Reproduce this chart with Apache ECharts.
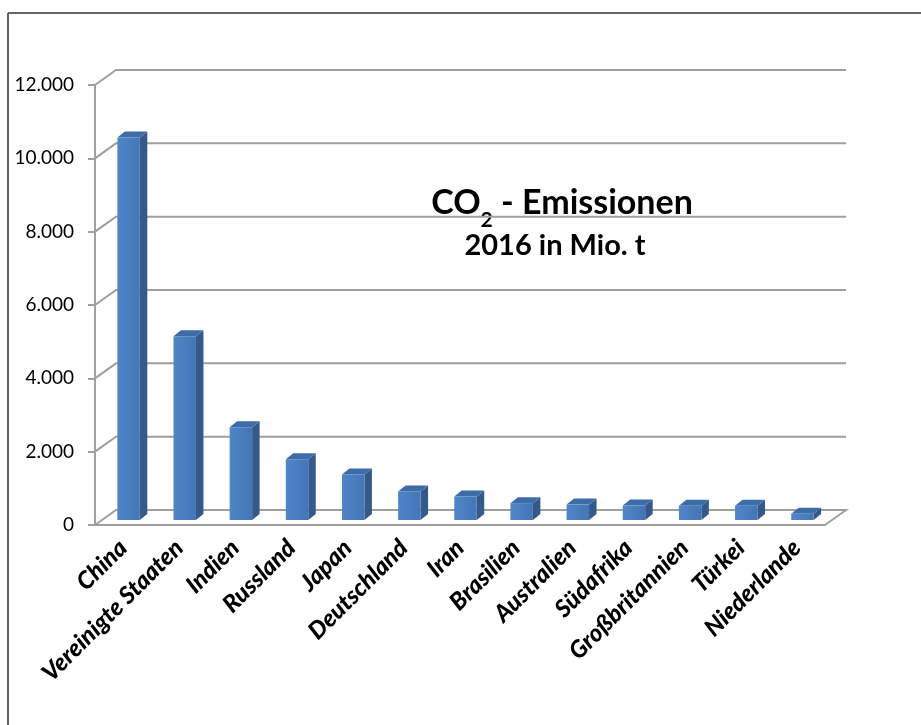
<!DOCTYPE html>
<html>
<head>
<meta charset="utf-8">
<script src="https://cdn.jsdelivr.net/npm/echarts@6/dist/echarts.min.js"></script>
<style>
  html, body { margin: 0; padding: 0; background: #fff; }
  #chart { width: 921px; height: 725px; }
</style>
</head>
<body>
<div id="chart"></div>
<script>
// CO2-Emissionen 2016 in Mio. t
const countries = ['China', 'Vereinigte Staaten', 'Indien', 'Russland', 'Japan', 'Deutschland',
  'Iran', 'Brasilien', 'Australien', 'Südafrika', 'Großbritannien', 'Türkei', 'Niederlande'];
const emissions = [10430, 5010, 2530, 1660, 1240, 780, 640, 460, 420, 395, 390, 390, 170];
const yTicks = [0, 2000, 4000, 6000, 8000, 10000, 12000];

// pseudo 3D: depth of the back wall and of the bars
const WALL = [21, -15];
const BAR_OFF = [5.5, -5];
const BAR_DEPTH = [7.5, -6];
const GRID_COLOR = '#9f9f9f';

const chart = echarts.init(document.getElementById('chart'));

const fmt = v => String(v).replace(/\B(?=(\d{3})+(?!\d))/g, '.');

const wallItem = (params, api) => {
  const cs = params.coordSys;
  const v = api.value(0);
  const y = api.coord([0, v])[1];
  const x0 = cs.x, x1 = cs.x + cs.width;
  const pts = [[x0, y], [x0 + WALL[0], y + WALL[1]], [x1 + WALL[0], y + WALL[1]]];
  if (v === 0) pts.push([x1, y]);
  return {
    type: 'polyline',
    shape: { points: pts },
    style: { stroke: GRID_COLOR, lineWidth: 2, fill: null }
  };
};

const barItem = (params, api) => {
  const idx = api.value(0);
  const base = api.coord([idx, 0]);
  const top = api.coord([idx, api.value(1)]);
  const w = api.size([1, 0])[0] * 0.4;
  const x0 = base[0] - w / 2 + BAR_OFF[0];
  const yb = base[1] + BAR_OFF[1];
  const yt = top[1] + BAR_OFF[1];
  const dx = BAR_DEPTH[0], dy = BAR_DEPTH[1];
  return {
    type: 'group',
    children: [
      {
        type: 'polygon',
        shape: { points: [[x0 + w, yt], [x0 + w + dx, yt + dy], [x0 + w + dx, yb + dy], [x0 + w, yb]] },
        style: { fill: '#345a8c' }
      },
      {
        type: 'polygon',
        shape: { points: [[x0, yt], [x0 + dx, yt + dy], [x0 + w + dx, yt + dy], [x0 + w, yt]] },
        style: { fill: '#3d6ca9' }
      },
      {
        type: 'rect',
        shape: { x: x0, y: yt, width: w, height: yb - yt },
        style: {
          fill: new echarts.graphic.LinearGradient(0, 0, 1, 0, [
            { offset: 0, color: '#4f86c8' },
            { offset: 1, color: '#4476b6' }
          ])
        }
      }
    ]
  };
};

const option = {
  backgroundColor: '#fff',
  animation: false,
  grid: { left: 95, right: 96, top: 85, bottom: 200 },
  xAxis: {
    type: 'category',
    data: countries,
    axisLine: { lineStyle: { color: GRID_COLOR, width: 2 } },
    axisTick: { length: 6, lineStyle: { color: GRID_COLOR, width: 2 } },
    axisLabel: {
      interval: 0,
      rotate: 45,
      margin: 19,
      color: '#000',
      fontFamily: 'Lato',
      fontWeight: 900,
      fontStyle: 'italic',
      fontSize: 24
    }
  },
  yAxis: {
    type: 'value',
    min: 0,
    max: 12000,
    interval: 2000,
    axisLine: { show: true, lineStyle: { color: GRID_COLOR, width: 2 } },
    axisTick: { show: true, length: 7, lineStyle: { color: GRID_COLOR, width: 2 } },
    splitLine: { show: false },
    axisLabel: {
      margin: 21,
      color: '#000',
      fontFamily: 'Lato',
      fontSize: 19,
      formatter: fmt
    }
  },
  graphic: [
    { type: 'line', shape: { x1: 8, y1: 13, x2: 8, y2: 725 }, style: { stroke: '#333', lineWidth: 1.5 } },
    { type: 'line', shape: { x1: 8, y1: 13, x2: 921, y2: 13 }, style: { stroke: '#333', lineWidth: 1.5 } },
    {
      type: 'text',
      x: 562,
      y: 223,
      style: {
        text: '{a|CO}{b|2}{a| - Emissionen}',
        align: 'center',
        verticalAlign: 'bottom',
        rich: {
          a: { fontFamily: 'Lato', fontWeight: 'bold', fontSize: 34, fill: '#000', lineHeight: 40 },
          b: { fontFamily: 'Lato', fontWeight: 'bold', fontSize: 21, fill: '#000', lineHeight: 40, verticalAlign: 'bottom', padding: [0, 0, -8, 0] }
        }
      }
    },
    {
      type: 'text',
      x: 555,
      y: 246,
      style: {
        text: '2016 in Mio. t',
        align: 'center',
        verticalAlign: 'middle',
        fontFamily: 'Lato',
        fontWeight: 'bold',
        fontSize: 29,
        fill: '#000'
      }
    }
  ],
  series: [
    {
      type: 'custom',
      z: 1,
      silent: true,
      renderItem: wallItem,
      data: yTicks.map(v => [v])
    },
    {
      type: 'custom',
      z: 2,
      renderItem: barItem,
      encode: { x: 0, y: 1 },
      data: emissions.map((v, i) => [i, v])
    }
  ]
};

chart.setOption(option);
window.addEventListener('resize', () => chart.resize());
</script>
</body>
</html>
